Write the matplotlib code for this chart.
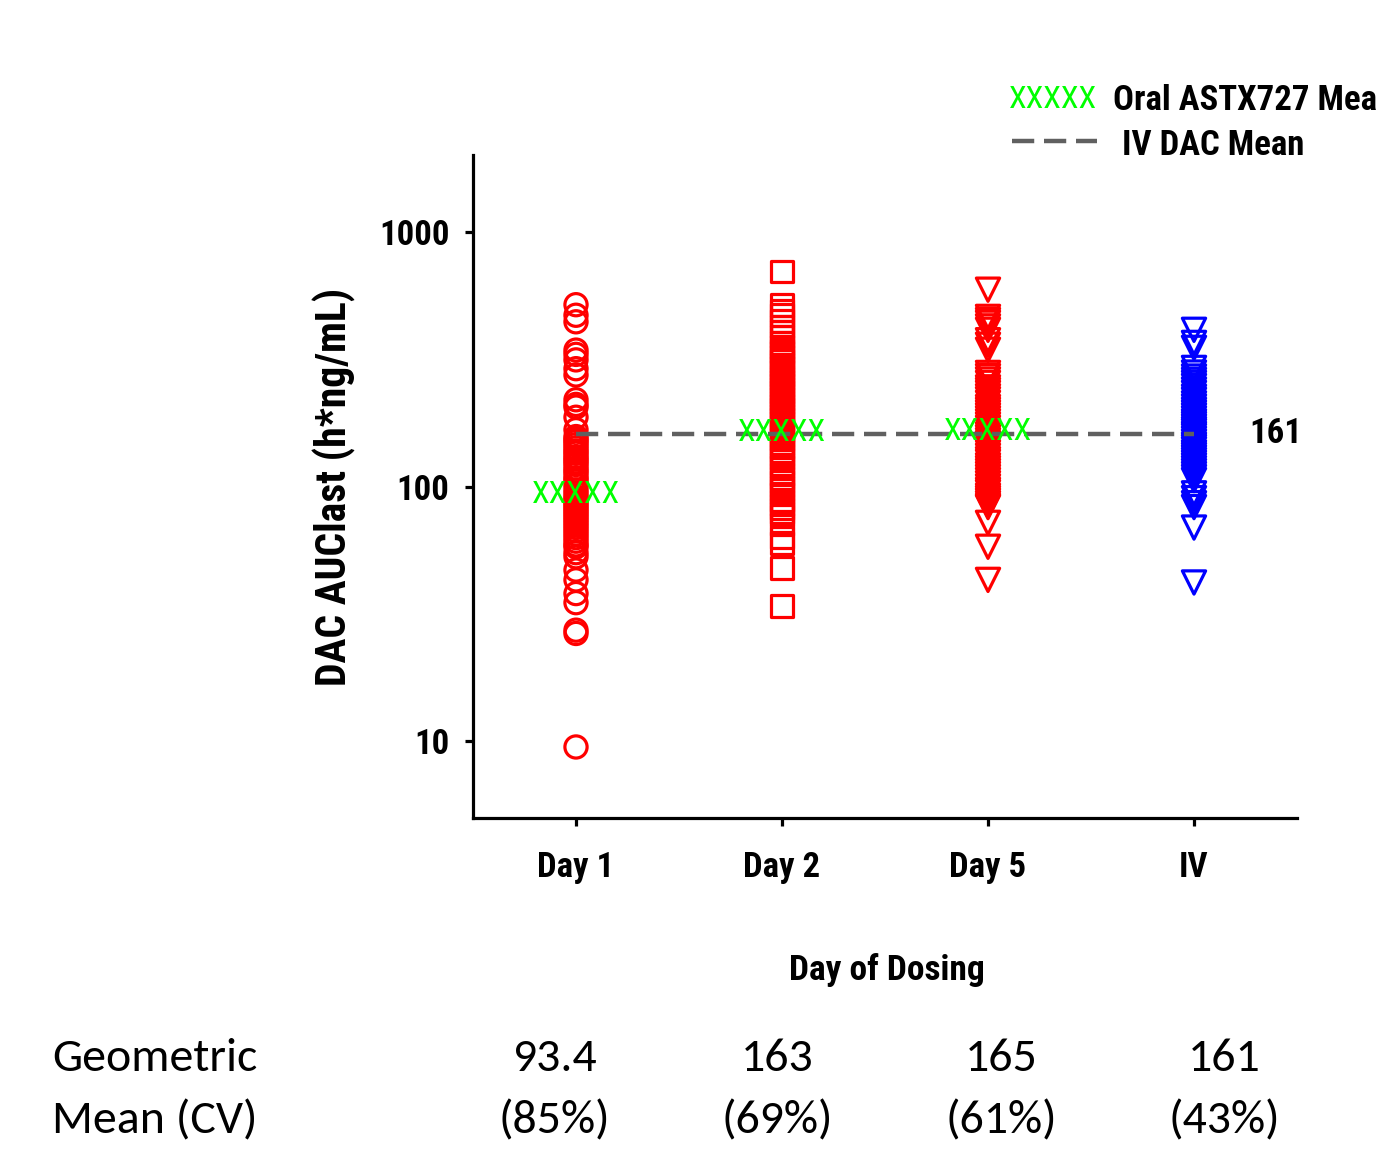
import matplotlib
matplotlib.use("Agg")
import matplotlib.pyplot as plt
from matplotlib.ticker import FixedLocator, NullLocator

# ---------------- data ----------------
categories = ["Day 1", "Day 2", "Day 5", "IV"]
day1 = [517, 470, 443, 343, 330, 314, 290, 274, 219, 210, 205, 187, 167, 157, 153,
        150, 146, 142, 138, 135, 131, 128, 125, 122, 118, 115, 112, 108, 106, 101,
        97, 94, 91, 89, 87, 85, 83, 81, 79, 77, 75, 73, 71, 69, 67, 65, 63, 61, 59,
        58, 55, 53, 47, 43, 38, 35, 27.3, 26.5, 9.5]
day2 = [698, 517, 490, 470, 445, 424, 405, 388, 366, 352, 341, 334, 322, 310, 300,
        291, 282, 273, 265, 258, 250, 242, 235, 228, 221, 214, 208, 202, 196, 190,
        184, 178, 172, 167, 163, 158, 153, 148, 143, 138, 133, 129, 122, 119, 112,
        108, 104, 100, 97, 94, 88, 85, 82, 79, 77, 71, 63, 60, 48, 34]
day5 = [592, 463, 450, 439, 425, 412, 375, 360, 344, 279, 271, 263, 255, 245, 239,
        233, 226, 220, 213, 205, 200, 195, 190, 185, 180, 175, 170, 165, 160, 156,
        152, 148, 144, 140, 136, 132, 128, 125, 121, 118, 115, 112, 109, 106, 103,
        100, 97, 95, 92, 90, 88, 86, 84, 83, 72, 58, 43]
iv = [412, 366, 350, 292, 280, 270, 262, 255, 248, 240, 233, 225, 219, 212, 206,
      200, 195, 190, 185, 180, 176, 172, 168, 165, 161, 158, 154, 150, 146, 143,
      140, 136, 133, 130, 127, 124, 121, 118, 115, 112, 109, 106, 94, 90, 86, 83,
      69, 42]
oral_means = [93.4, 163, 165]
iv_mean = 161
table_means = ["93.4", "163", "165", "161"]
table_cv = ["(85%)", "(69%)", "(61%)", "(43%)"]
yticks = [10, 100, 1000]
ytick_labels = ["10", "100", "1000"]

NARROW = ["Roboto Condensed", "Liberation Sans", "DejaVu Sans"]
BODY = ["Carlito", "Lato", "DejaVu Sans"]

W, H = 1378, 1166
fig = plt.figure(figsize=(W / 100, H / 100), dpi=100)
ax = fig.add_axes([473 / W, 1 - 818 / H, (1297 - 473) / W, (818 - 155) / H])

ax.set_yscale("log")
ax.set_ylim(5, 2000)
ax.set_xlim(0.5, 4.5)

ms = 255
lw = 2.3
ax.scatter([1] * len(day1), day1, s=ms, marker="o", facecolors="none",
           edgecolors="#ff0000", linewidths=lw, zorder=3)
ax.scatter([2] * len(day2), day2, s=ms * 0.95, marker="s", facecolors="none",
           edgecolors="#ff0000", linewidths=lw, zorder=3)
ax.scatter([3] * len(day5), day5, s=ms * 1.1, marker="v", facecolors="none",
           edgecolors="#ff0000", linewidths=lw, zorder=3)
ax.scatter([4] * len(iv), iv, s=ms * 1.1, marker="v", facecolors="none",
           edgecolors="#0000ff", linewidths=lw, zorder=3)

# IV mean dashed line
ax.plot([1, 4], [iv_mean, iv_mean], color="#606060", lw=3.2,
        dashes=(5, 2.2), zorder=4)
ax.text(4.27, iv_mean, str(iv_mean), fontsize=25, fontweight="bold",
        family=NARROW, va="center", ha="left")

# oral means as XXXXX text
for i, m in enumerate(oral_means):
    ax.text(i + 1, m, "XXXXX", color="#00ff00", fontsize=23, family=NARROW,
            ha="center", va="center", zorder=5)

# axes styling
for s in ["top", "right"]:
    ax.spines[s].set_visible(False)
for s in ["left", "bottom"]:
    ax.spines[s].set_linewidth(2.3)
ax.yaxis.set_major_locator(FixedLocator(yticks))
ax.yaxis.set_minor_locator(NullLocator())
ax.set_yticklabels(ytick_labels)
ax.set_xticks([1, 2, 3, 4])
ax.set_xticklabels(categories)
ax.tick_params(axis="both", direction="out", length=6, width=2.3)
ax.tick_params(axis="y", pad=11)
ax.tick_params(axis="x", pad=18)
for lab in ax.get_yticklabels() + ax.get_xticklabels():
    lab.set_family(NARROW)
    lab.set_fontweight("bold")
    lab.set_fontsize(25)

ax.set_ylabel("DAC AUClast (h*ng/mL)", fontsize=30, fontweight="bold",
              family=NARROW)
ax.yaxis.set_label_coords(-0.142, 0.5)
ax.set_xlabel("Day of Dosing", fontsize=25.5, fontweight="bold", family=NARROW)
ax.xaxis.set_label_coords(0.502, -0.204)

# legend (manual)
def fx(x):
    return x / W

def fy(y):
    return 1 - y / H

fig.text(fx(1053), fy(99), "XXXXX", color="#00ff00", fontsize=23,
         family=NARROW, ha="center", va="center")
fig.text(fx(1113), fy(110), "Oral ASTX727 Mea", fontsize=25, fontweight="bold",
         family=NARROW, ha="left", va="baseline")
fig.add_artist(plt.Line2D([fx(1012), fx(1097)], [fy(141), fy(141)],
                          color="#606060", lw=3.2, dashes=(5, 2.2)))
fig.text(fx(1122), fy(155), "IV DAC Mean", fontsize=25, fontweight="bold",
         family=NARROW, ha="left", va="baseline")

# bottom table
fig.text(fx(52), fy(1071), "Geometric", fontsize=34.5, family=BODY,
         ha="left", va="baseline")
fig.text(fx(52), fy(1133), "Mean (CV)", fontsize=34.5, family=BODY,
         ha="left", va="baseline")
col_x = [554, 777, 1001, 1224]
for cx, m, cv in zip(col_x, table_means, table_cv):
    fig.text(fx(cx), fy(1071), m, fontsize=34.5, family=BODY, ha="center", va="baseline")
    fig.text(fx(cx), fy(1133), cv, fontsize=34.5, family=BODY, ha="center", va="baseline")

fig.savefig("out.png", dpi=100)
